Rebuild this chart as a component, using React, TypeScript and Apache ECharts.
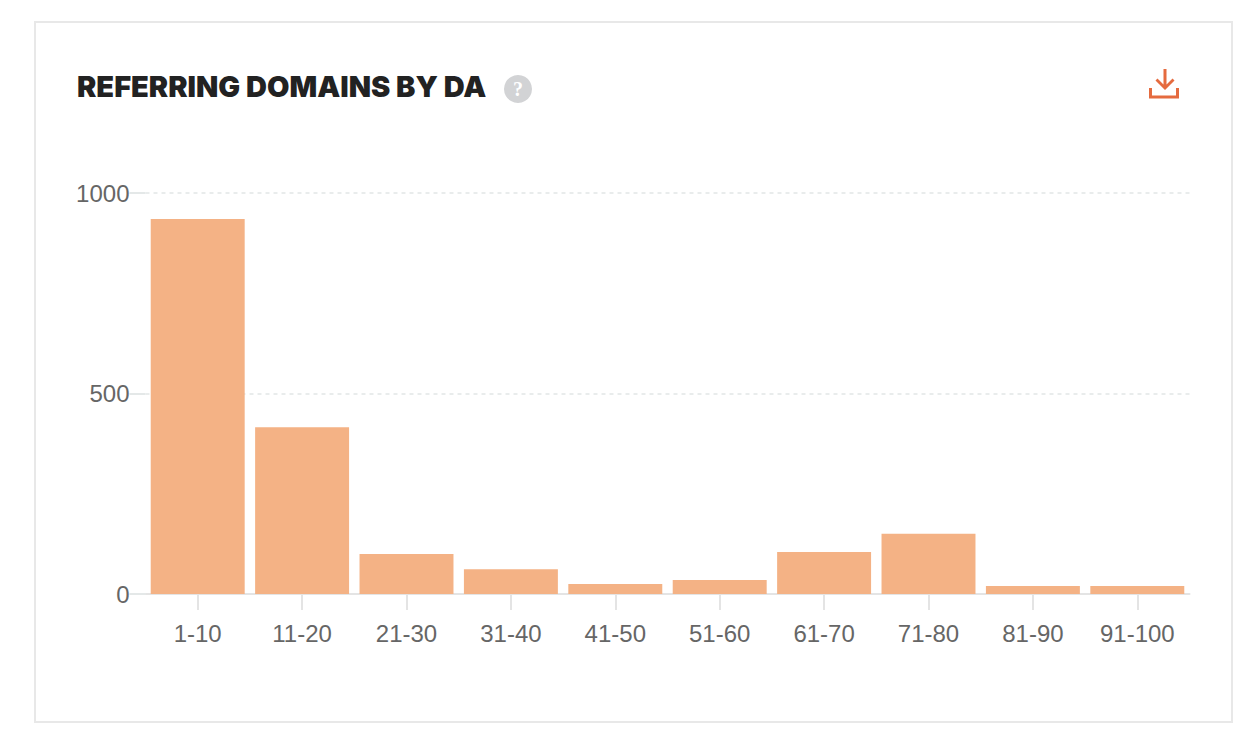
import React, { useEffect, useRef } from 'react';
import * as echarts from 'echarts';

const categories = ['1-10', '11-20', '21-30', '31-40', '41-50', '51-60', '61-70', '71-80', '81-90', '91-100'];
const domainCounts = [935, 416, 100, 62, 25, 35, 105, 150, 20, 20];
const yTicks = [0, 500, 1000];

// download icon, drawn in a 32x30 box
echarts.graphic.registerShape(
    'downloadIcon',
    echarts.graphic.extendPath('M14.5 0H17.5V15.5L23.5 9.5L25.5 11.5L16 21L6.5 11.5L8.5 9.5L14.5 15.5ZM0 19H3V26.5H27V19H30V29.5H0Z', {})
);

const App: React.FC = () => {
    const chartRef = useRef<HTMLDivElement>(null);

    useEffect(() => {
        document.body.style.margin = '0';
        const chartDom = chartRef.current!;
        const myChart = echarts.init(chartDom, undefined, { renderer: 'svg' });
        const option: any = {
            animation: false,
            backgroundColor: '#ffffff',
            grid: { left: 145.5, right: 62.5, top: 193, bottom: 152 },
            xAxis: {
                type: 'category',
                data: categories,
                axisLine: { lineStyle: { color: '#e4e4e4', width: 2 } },
                axisTick: { show: true, alignWithLabel: true, length: 16, lineStyle: { color: '#e4e4e4', width: 2 } },
                axisLabel: { color: '#666666', fontSize: 24, fontFamily: 'Liberation Sans', margin: 27 },
            },
            yAxis: {
                type: 'value',
                min: 0,
                max: 1000,
                interval: 500,
                axisLine: { show: false },
                axisTick: { show: true, length: 16, lineStyle: { color: '#e4e8e8', width: 2 } },
                axisLabel: {
                    color: '#666666',
                    fontSize: 24,
                    fontFamily: 'Liberation Sans',
                    margin: 16,
                    padding: [0, 0, 2, 0],
                    formatter: (v: number) => (yTicks.includes(v) ? String(v) : ''),
                },
                splitLine: { lineStyle: { color: '#e2e6e6', width: 1.5, type: [4, 4] } },
            },
            series: [
                {
                    type: 'bar',
                    data: domainCounts,
                    barCategoryGap: '10%',
                    itemStyle: { color: '#f4b285' },
                },
            ],
            graphic: [
                {
                    type: 'rect',
                    shape: { x: 35, y: 22, width: 1197, height: 700 },
                    style: { fill: 'none', stroke: '#e8e8e8', lineWidth: 2 },
                    silent: true,
                },
                {
                    type: 'text',
                    x: 77,
                    y: 72,
                    style: {
                        text: 'REFERRING DOMAINS BY DA',
                        fill: '#222222',
                        font: '900 29px Inter',
                    },
                },
                { type: 'circle', shape: { cx: 518, cy: 89, r: 14 }, style: { fill: '#d2d3d5' } },
                {
                    type: 'text',
                    x: 518,
                    y: 89,
                    style: {
                        text: '?',
                        fill: '#ffffff',
                        font: 'bold 20px "Liberation Serif"',
                        align: 'center',
                        verticalAlign: 'middle',
                    },
                },
                {
                    type: 'downloadIcon',
                    x: 1149,
                    y: 69,
                    style: { fill: '#e56b3f' },
                },
            ],
        };

        myChart.setOption(option);

        return () => {
            myChart.dispose();
        };
    }, []);

    return <div ref={chartRef} style={{ width: 1252, height: 746 }} />;
};

export default App;
